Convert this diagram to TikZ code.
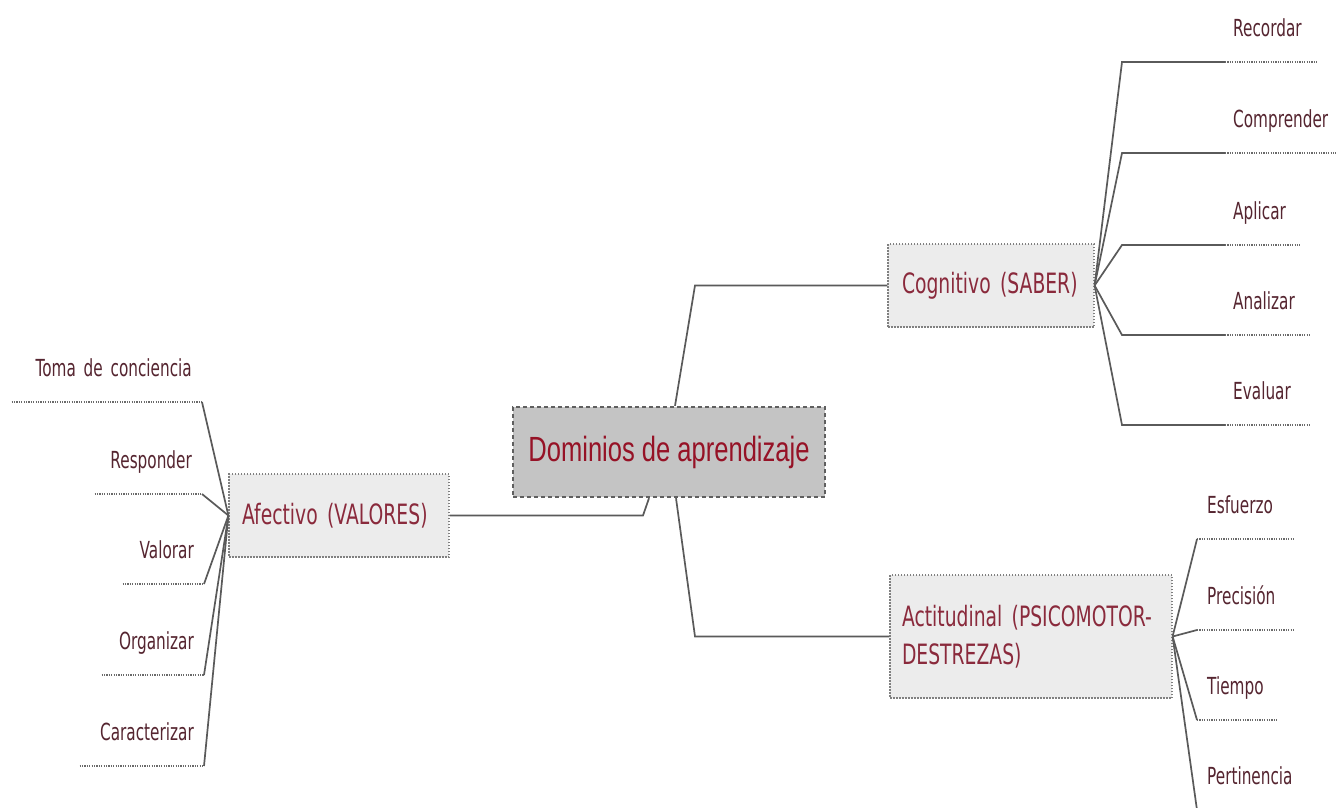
\documentclass[tikz,border=0pt]{standalone}
\usepackage{fontspec}
\newfontfamily\lblfont[FakeStretch=0.65]{DejaVu Sans}
\newfontfamily\boxfont[FakeStretch=0.67]{DejaVu Sans}
\newfontfamily\cenfont[FakeStretch=0.73]{Liberation Sans}
\newcommand{\mylblfont}{\lblfont\fontsize{23.5pt}{28pt}\selectfont\fontdimen2\font=6pt\relax}
\newcommand{\myboxfont}{\boxfont\fontsize{28pt}{38pt}\selectfont\fontdimen2\font=6.5pt\relax}
\definecolor{linegray}{HTML}{5A5A5A}
\definecolor{dotgray}{HTML}{6A6A6A}
\definecolor{lblred}{HTML}{552530}
\definecolor{boxred}{HTML}{8A2A3C}
\definecolor{cenred}{HTML}{961226}
\definecolor{cenfill}{HTML}{C4C4C4}
\definecolor{boxfill}{HTML}{ECECEC}
\definecolor{cenborder}{HTML}{5F5F5F}
\definecolor{boxborder}{HTML}{808080}
\tikzset{
  conn/.style={draw=linegray, line width=1.7pt},
  dotl/.style={draw=dotgray, line width=1.3pt, dash pattern=on 1.2pt off 1.2pt},
  cbox/.style={draw=cenborder, line width=2.4pt, dash pattern=on 4pt off 3pt, fill=cenfill,
    text=cenred, font=\cenfont\fontsize{35pt}{40pt}\selectfont, inner sep=0pt},
  sbox/.style={draw=boxborder, line width=1.2pt, dash pattern=on 1.5pt off 1.5pt, fill=boxfill,
    text=boxred, font=\myboxfont, inner ysep=0pt, align=left},
  lbl/.style={text=lblred, font=\mylblfont, inner ysep=25pt, text depth=0pt},
  rleaf/.style={lbl, anchor=south west, inner xsep=8pt, align=left},
  aleaf/.style={lbl, anchor=south west, inner xsep=10pt, align=left},
  lleaf/.style={lbl, anchor=south east, inner xsep=10pt, align=right}
}
\begin{document}
\begin{tikzpicture}[x=1pt,y=-1pt]
\path[fill=white] (0,0) rectangle (1336,807);
\useasboundingbox (0,0) rectangle (1336,807);

% main nodes
\node[cbox, minimum width=312pt, minimum height=90pt] (cen) at (669,452) {Dominios de aprendizaje};
\node[sbox, minimum width=206pt, minimum height=83pt, text width=178pt, inner xsep=14pt] (cog) at (991,285.5) {Cognitivo (SABER)};
\node[sbox, minimum width=220pt, minimum height=83pt, text width=194pt, inner xsep=13pt] (afe) at (339,515.5) {Afectivo (VALORES)};
\node[sbox, minimum width=282pt, minimum height=123pt, text width=258pt, inner xsep=12pt] (act) at (1031,636.5) {Actitudinal (PSICOMOTOR-\\DESTREZAS)};

% central connectors
\draw[conn] ([xshift=6pt]cen.north) -- (695,285.5) -- (cog.west);
\draw[conn] ([xshift=7pt]cen.south) -- (695,636.5) -- (act.west);
\draw[conn] ([xshift=-20pt]cen.south) -- (643,515.5) -- (afe.east);

% Cognitivo leaves
\foreach \nm/\txt/\yy/\tw in {rec/Recordar/62/77, comp/Comprender/153/95, apl/Aplicar/245/59, ana/Analizar/335/69, eva/Evaluar/425/69}{
  \node[rleaf, text width=\tw pt] (\nm) at (1225,\yy) {\txt};
  \draw[dotl] (\nm.south west) -- (\nm.south east);
  \draw[conn] (cog.east) -- (1122,\yy) -- (\nm.south west);
}

% Afectivo leaves
\foreach \nm/\txt/\yy/\xx/\tw in {tom/Toma de conciencia/402/202/170, res/Responder/494/202/87, val/Valorar/584/204/61, org/Organizar/675/204/82, car/Caracterizar/766/204/104}{
  \node[lleaf, text width=\tw pt] (\nm) at (\xx,\yy) {\txt};
  \draw[dotl] (\nm.south west) -- (\nm.south east);
  \draw[conn] (afe.west) -- (\nm.south east);
}

% Actitudinal leaves
\foreach \nm/\txt/\yy/\tw in {esf/Esfuerzo/539/76, pre/Precisión/630/76, tie/Tiempo/720/61, per/Pertinencia/810/90}{
  \node[aleaf, text width=\tw pt] (\nm) at (1197,\yy) {\txt};
  \draw[dotl] (\nm.south west) -- (\nm.south east);
  \draw[conn] (act.east) -- (\nm.south west);
}
\end{tikzpicture}
\end{document}
